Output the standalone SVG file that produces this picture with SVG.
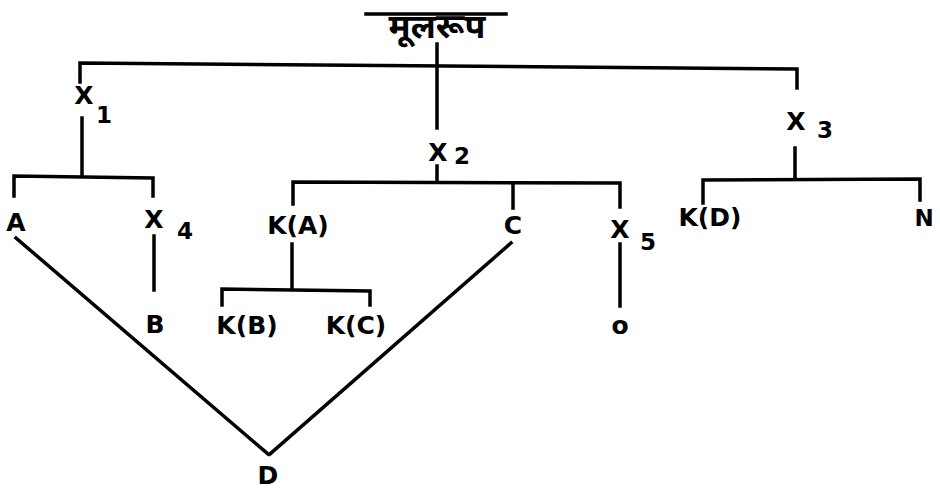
<svg xmlns="http://www.w3.org/2000/svg" width="940" height="490" viewBox="0 0 940 490">
<style>
.ln{stroke:#000;stroke-width:3.5;fill:none;stroke-linecap:square}
.t{font-family:"DejaVu Sans","Liberation Sans",sans-serif;font-size:25px;font-weight:bold;fill:#000}
.s{font-family:"DejaVu Sans","Liberation Sans",sans-serif;font-size:23px;font-weight:bold;fill:#000}
.dv{font-family:"Noto Sans","DejaVu Sans",sans-serif;font-size:34px;font-weight:bold;fill:#000}
</style>
<rect width="940" height="490" fill="#fff"/>
<g id="connectors">
<line class="ln" x1="366" y1="14" x2="506" y2="14"/>
<line class="ln" x1="437" y1="44" x2="437" y2="128"/>
<polyline class="ln" points="80,82 80,63 797,69 797,88"/>
<line class="ln" x1="82" y1="118" x2="82" y2="176"/>
<polyline class="ln" points="14,196 14,176 153,178 153,196"/>
<line class="ln" x1="154" y1="236" x2="154" y2="290"/>
<line class="ln" x1="437" y1="166" x2="437" y2="182"/>
<polyline class="ln" points="293,204 293,182 620,183 620,207"/>
<line class="ln" x1="513" y1="183" x2="513" y2="208"/>
<line class="ln" x1="292" y1="244" x2="292" y2="289"/>
<polyline class="ln" points="222,305 222,289 370,291 370,305"/>
<line class="ln" x1="620" y1="244" x2="620" y2="306"/>
<line class="ln" x1="795" y1="148" x2="795" y2="178"/>
<polyline class="ln" points="703,203 703,180 920,179 920,200"/>
<line class="ln" x1="16" y1="238" x2="268" y2="454"/>
<line class="ln" x1="511" y1="243" x2="270" y2="454"/>
</g>
<g id="root"><text class="dv" x="437" y="38" text-anchor="middle">मूलरूप</text></g>
<g id="x1"><text class="t" x="84" y="104" text-anchor="middle">X</text><text class="s" x="104" y="123" text-anchor="middle">1</text></g>
<g id="x2"><text class="t" x="438" y="161" text-anchor="middle">X</text><text class="s" x="462" y="164" text-anchor="middle">2</text></g>
<g id="x3"><text class="t" x="796" y="130" text-anchor="middle">X</text><text class="s" x="825" y="138" text-anchor="middle">3</text></g>
<g id="nA"><text class="t" x="16" y="231" text-anchor="middle">A</text></g>
<g id="x4"><text class="t" x="154" y="228" text-anchor="middle">X</text><text class="s" x="185" y="239" text-anchor="middle">4</text></g>
<g id="nB"><text class="t" x="155" y="333" text-anchor="middle">B</text></g>
<g id="kA"><text class="t" x="298" y="234" text-anchor="middle">K(A)</text></g>
<g id="kB"><text class="t" x="247" y="334" text-anchor="middle">K(B)</text></g>
<g id="kC"><text class="t" x="356" y="334" text-anchor="middle">K(C)</text></g>
<g id="nC"><text class="t" x="513" y="234" text-anchor="middle">C</text></g>
<g id="x5"><text class="t" x="620" y="238" text-anchor="middle">X</text><text class="s" x="648" y="250" text-anchor="middle">5</text></g>
<g id="nO"><text class="t" x="620" y="334" text-anchor="middle">o</text></g>
<g id="kD"><text class="t" x="710" y="226" text-anchor="middle">K(D)</text></g>
<g id="nN"><text class="s" x="924" y="226" text-anchor="middle">N</text></g>
<g id="nD"><text class="t" x="268" y="484" text-anchor="middle">D</text></g>
</svg>
